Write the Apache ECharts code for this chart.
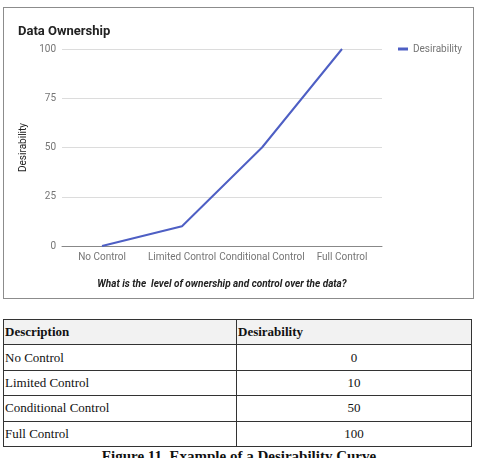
<!DOCTYPE html>
<html lang="en">
<head>
    <meta charset="UTF-8">
    <title>Data Ownership</title>
    <script src="https://cdn.jsdelivr.net/npm/echarts@6/dist/echarts.min.js"></script>
    <style>
        body { margin: 0; background: #fff; width: 478px; height: 458px; overflow: hidden; position: relative; }
        #box { position: absolute; left: 3px; top: 7px; width: 469px; height: 290px; border: 1px solid #8c8c8c; }
        #line { width: 469px; height: 290px; }
        table { position: absolute; left: 3px; top: 319px; width: 469px; border-collapse: collapse;
            font-family: "Liberation Serif", "DejaVu Serif", serif; font-size: 13px; color: #111; }
        td, th { border: 1px solid #333; height: 24.4px; padding: 0 1px; }
        th { background: #f2f2f2; text-align: left; }
        td.v { text-align: center; }
        #cap { position: absolute; left: 0; top: 448px; width: 478px; text-align: center;
            font-family: "Liberation Serif", serif; font-weight: bold; font-size: 15px; color: #111; }
    </style>
</head>
<body>
<div id="box"><div id="line"></div></div>
<table id="tbl"></table>
<div id="cap">Figure 11. Example of a Desirability Curve</div>
<script>
    // 数据
    var categories = ['No Control', 'Limited Control', 'Conditional Control', 'Full Control'];
    var desirability = [0, 10, 50, 100];
    var yTicks = [0, 25, 50, 75, 100];

    // 表格
    var html = '<tr><th style="width:230px">Description</th><th>Desirability</th></tr>';
    for (var i = 0; i < categories.length; i++) {
        html += '<tr><td>' + categories[i] + '</td><td class="v">' + desirability[i] + '</td></tr>';
    }
    document.getElementById('tbl').innerHTML = html;

    var myChart = echarts.init(document.getElementById('line'));
    var option = {
        animation: false,
        title: {
            text: 'Data Ownership',
            left: 9,
            top: 12,
            textStyle: { color: '#222', fontWeight: 'bold', fontSize: 13, fontFamily: 'Roboto' }
        },
        legend: {
            left: 389,
            top: 31,
            icon: 'rect',
            itemWidth: 10,
            itemHeight: 3,
            itemGap: 5,
            textStyle: { color: '#757575', fontSize: 10, fontFamily: 'Roboto' },
            data: ['Desirability']
        },
        grid: { left: 58, top: 41, width: 320, height: 197 },
        xAxis: {
            type: 'category',
            data: categories,
            boundaryGap: true,
            name: 'What is the  level of ownership and control over the data?',
            nameLocation: 'middle',
            nameGap: 33,
            nameTextStyle: { color: '#222', fontSize: 10, fontWeight: 'bold', fontStyle: 'italic', fontFamily: 'Roboto' },
            axisLine: { lineStyle: { color: '#888' } },
            axisTick: { show: false },
            axisLabel: { color: '#757575', fontSize: 10, margin: 6, interval: 0, fontFamily: 'Roboto' }
        },
        yAxis: {
            type: 'value',
            min: yTicks[0],
            max: yTicks[yTicks.length - 1],
            interval: 25,
            name: 'Desirability',
            nameLocation: 'middle',
            nameGap: 34,
            nameTextStyle: { color: '#222', fontSize: 10, fontFamily: 'Roboto' },
            axisLine: { show: false },
            axisTick: { show: false },
            axisLabel: { color: '#757575', fontSize: 10, margin: 6, fontFamily: 'Roboto' },
            splitLine: { lineStyle: { color: '#dcdcdc' } }
        },
        series: [{
            name: 'Desirability',
            type: 'line',
            data: desirability,
            showSymbol: false,
            color: '#4e5fc4',
            lineStyle: { width: 2 }
        }]
    };
    myChart.setOption(option);
</script>
</body>
</html>
